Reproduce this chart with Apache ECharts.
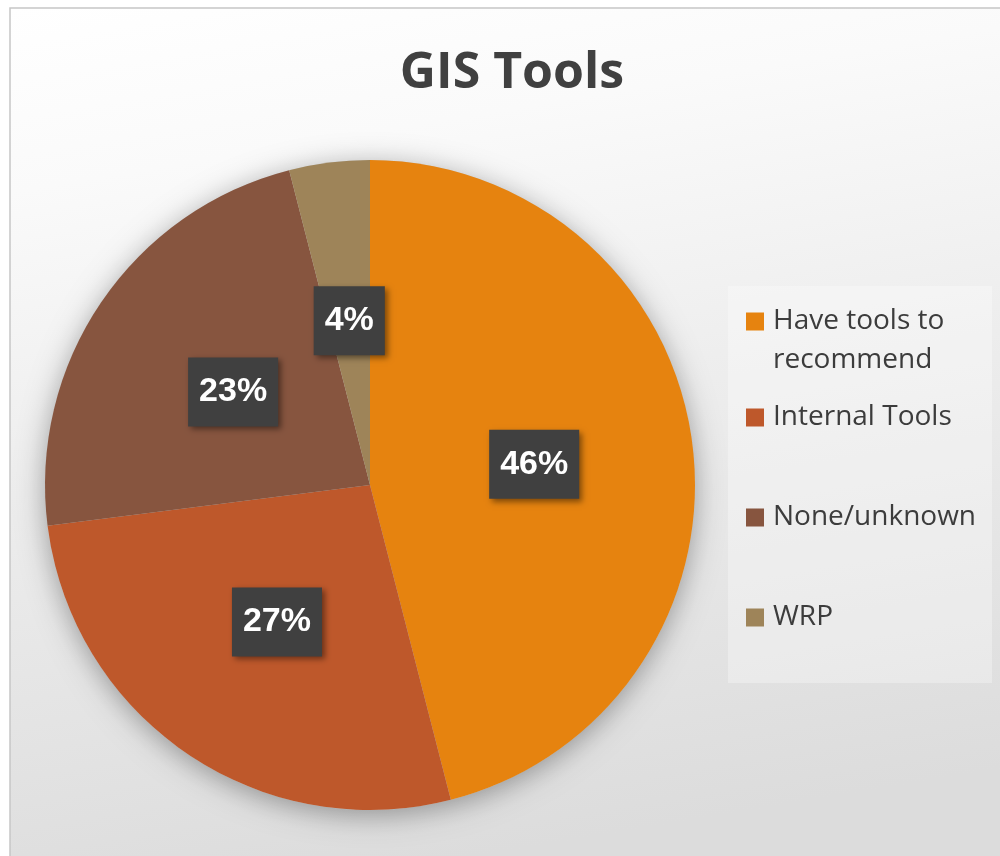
<!DOCTYPE html>
<html>
<head>
<meta charset="utf-8">
<script src="https://cdn.jsdelivr.net/npm/echarts@6/dist/echarts.min.js"></script>
<style>html,body{margin:0;padding:0;background:#fff;}#c{width:1000px;height:856px;}</style>
</head>
<body>
<div id="c"></div>
<script>
const categories = ['Have tools to recommend', 'Internal Tools', 'None/unknown', 'WRP'];
const values = [46, 27, 23, 4];
const colors = ['#E6830F', '#BE582B', '#87553F', '#9E8459'];

const chart = echarts.init(document.getElementById('c'));
const pieData = categories.map((n, i) => ({ name: n, value: values[i], itemStyle: { color: colors[i] } }));

const legendText = { fontFamily: 'Open Sans', fontSize: 28, color: '#3c3c3c', lineHeight: 39, padding: [0, 0, 0, 4] };

chart.setOption({
  animation: false,
  graphic: [
    { type: 'rect', z: -10, silent: true,
      shape: { x: 10, y: 8, width: 1000, height: 900 },
      style: { stroke: '#c6c6c6', lineWidth: 1.5,
        fill: new echarts.graphic.LinearGradient(0, 0, 0.15, 1, [
          { offset: 0, color: '#ffffff' }, { offset: 0.2, color: '#fafafa' }, { offset: 0.5, color: '#eeeeee' }, { offset: 1, color: '#dcdcdc' }]) } },
    { type: 'rect', z: -9, silent: true,
      shape: { x: 728, y: 286, width: 264, height: 397 },
      style: { fill: 'rgba(255,255,255,0.3)' } }
  ],
  title: {
    text: 'GIS Tools', left: 512, top: 44, textAlign: 'center', padding: 0,
    textStyle: { fontFamily: 'Open Sans', fontWeight: 'bold', fontSize: 50, color: '#404040', lineHeight: 60 }
  },
  legend: [
    { orient: 'vertical', left: 746, top: 302, padding: 0, itemWidth: 18, itemHeight: 57,
      selectedMode: false,
      data: [{ name: categories[0], icon: 'path://M0,0h10v10h-10z M0,31.67h0.01v0.01h-0.01z' }],
      formatter: () => 'Have tools to\nrecommend',
      textStyle: legendText },
    { orient: 'vertical', left: 746, top: 398, padding: 0, itemWidth: 18, itemHeight: 18, itemGap: 61,
      selectedMode: false, icon: 'rect',
      data: categories.slice(1),
      textStyle: legendText }
  ],
  series: [
    { type: 'pie', name: 'backdrop', silent: true, center: [370, 485], radius: 325, z: 1,
      label: { show: false }, labelLine: { show: false },
      itemStyle: { color: '#c9c9c9', shadowBlur: 28, shadowColor: 'rgba(0,0,0,0.35)', shadowOffsetY: 5 },
      data: [{ name: 'backdrop', value: 1 }] },
    { type: 'pie', name: 'GIS Tools', center: [370, 485], radius: 325, startAngle: 90, clockwise: true, z: 2,
      itemStyle: { borderWidth: 0 },
      label: { show: true, position: 'inside', formatter: '{c}%',
        fontFamily: 'Liberation Sans', fontWeight: 'bold', fontSize: 34, lineHeight: 36, color: '#ffffff',
        backgroundColor: '#404040', padding: [17, 11, 16, 11],
        shadowColor: 'rgba(0,0,0,0.45)', shadowBlur: 6, shadowOffsetX: 3, shadowOffsetY: 3 },
      labelLine: { show: false },
      emphasis: { disabled: true },
      data: pieData }
  ]
});
</script>
</body>
</html>
